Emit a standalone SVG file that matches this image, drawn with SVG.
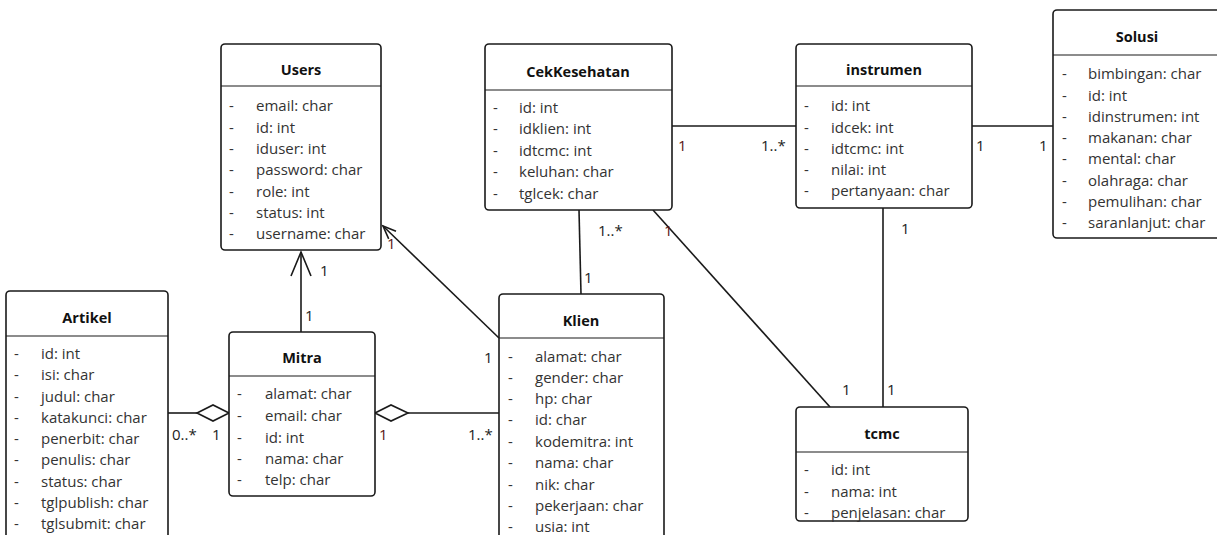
<svg xmlns="http://www.w3.org/2000/svg" width="1217" height="535" viewBox="0 0 1217 535">
<style>
.box{fill:#fff;stroke:#1a1a1a;stroke-width:1.6}
.div{stroke:#1a1a1a;stroke-width:1.2}
.t{font-family:"Open Sans","Liberation Sans",Arial,sans-serif;font-size:14.5px;font-weight:bold;fill:#111;text-anchor:middle}
.a{font-family:"Open Sans","Liberation Sans",Arial,sans-serif;font-size:15px;fill:#333}
.c{stroke:#1a1a1a;stroke-width:1.6;fill:none}
.l{font-family:"Open Sans","Liberation Sans",Arial,sans-serif;font-size:15px;fill:#222}
.r{fill:#5a1414}
</style>
<rect width="1217" height="535" fill="#fff"/>
<g id="connectors">
<line class="c" x1="301" y1="332" x2="301" y2="252"/>
<polyline class="c" points="291,276 301,252 311,276"/>
<line class="c" x1="499" y1="338" x2="383" y2="226"/>
<polyline class="c" points="388.7,238.8 383,226 396,231.2"/>
<line class="c" x1="168" y1="413" x2="197" y2="413"/>
<polygon class="c" fill="#fff" points="229,413 213,405 197,413 213,421"/>
<line class="c" x1="408" y1="413" x2="499" y2="413"/>
<polygon class="c" fill="#fff" points="375,413 391,405 408,413 391,421"/>
<line class="c" x1="579" y1="210" x2="581" y2="294"/>
<line class="c" x1="653" y1="210" x2="830" y2="407"/>
<line class="c" x1="672" y1="126" x2="796" y2="126"/>
<line class="c" x1="972" y1="126" x2="1053" y2="126"/>
<line class="c" x1="883" y1="208" x2="883" y2="407"/>
<text class="l" x="320" y="276">1</text>
<text class="l" x="305" y="321">1</text>
<text class="l r" x="387" y="249">1</text>
<text class="l" x="484" y="363">1</text>
<text class="l" x="172" y="440">0..*</text>
<text class="l" x="212" y="440">1</text>
<text class="l r" x="379" y="440">1</text>
<text class="l" x="468" y="440">1..*</text>
<text class="l" x="598" y="236">1..*</text>
<text class="l" x="584" y="283">1</text>
<text class="l r" x="664" y="236">1</text>
<text class="l" x="842" y="395">1</text>
<text class="l r" x="678" y="151">1</text>
<text class="l" x="761" y="151">1..*</text>
<text class="l" x="976" y="151">1</text>
<text class="l" x="1039" y="151">1</text>
<text class="l" x="901" y="234">1</text>
<text class="l" x="887" y="395">1</text>
</g>
<g id="Users">
<rect class="box" x="221" y="44" width="160" height="206" rx="4"/>
<line class="div" x1="221" y1="86" x2="381" y2="86"/>
<text class="t" x="301" y="75">Users</text>
<g class="a">
<text x="229" y="111">-</text><text x="256" y="111">email: char</text>
<text x="229" y="133">-</text><text x="256" y="133">id: int</text>
<text x="229" y="154">-</text><text x="256" y="154">iduser: int</text>
<text x="229" y="175">-</text><text x="256" y="175">password: char</text>
<text x="229" y="197">-</text><text x="256" y="197">role: int</text>
<text x="229" y="218">-</text><text x="256" y="218">status: int</text>
<text x="229" y="239">-</text><text x="256" y="239">username: char</text>
</g>
</g>
<g id="CekKesehatan">
<rect class="box" x="485" y="44" width="187" height="166" rx="4"/>
<line class="div" x1="485" y1="90" x2="672" y2="90"/>
<text class="t" x="578" y="77">CekKesehatan</text>
<g class="a">
<text x="493" y="113">-</text><text x="519" y="113">id: int</text>
<text x="493" y="134">-</text><text x="519" y="134">idklien: int</text>
<text x="493" y="156">-</text><text x="519" y="156">idtcmc: int</text>
<text x="493" y="177">-</text><text x="519" y="177">keluhan: char</text>
<text x="493" y="199">-</text><text x="519" y="199">tglcek: char</text>
</g>
</g>
<g id="instrumen">
<rect class="box" x="796" y="44" width="176" height="164" rx="4"/>
<line class="div" x1="796" y1="86" x2="972" y2="86"/>
<text class="t" x="884" y="75">instrumen</text>
<g class="a">
<text x="804" y="111">-</text><text x="831" y="111">id: int</text>
<text x="804" y="133">-</text><text x="831" y="133">idcek: int</text>
<text x="804" y="154">-</text><text x="831" y="154">idtcmc: int</text>
<text x="804" y="175">-</text><text x="831" y="175">nilai: int</text>
<text x="804" y="196">-</text><text x="831" y="196">pertanyaan: char</text>
</g>
</g>
<g id="Solusi">
<rect class="box" x="1053" y="10" width="175" height="228" rx="4"/>
<line class="div" x1="1053" y1="55" x2="1217" y2="55"/>
<text class="t" x="1137" y="42">Solusi</text>
<g class="a">
<text x="1062" y="79">-</text><text x="1088" y="79">bimbingan: char</text>
<text x="1062" y="101">-</text><text x="1088" y="101">id: int</text>
<text x="1062" y="122">-</text><text x="1088" y="122">idinstrumen: int</text>
<text x="1062" y="143">-</text><text x="1088" y="143">makanan: char</text>
<text x="1062" y="164">-</text><text x="1088" y="164">mental: char</text>
<text x="1062" y="186">-</text><text x="1088" y="186">olahraga: char</text>
<text x="1062" y="207">-</text><text x="1088" y="207">pemulihan: char</text>
<text x="1062" y="228">-</text><text x="1088" y="228">saranlanjut: char</text>
</g>
</g>
<g id="Artikel">
<rect class="box" x="6" y="291" width="162" height="260" rx="4"/>
<line class="div" x1="6" y1="336" x2="168" y2="336"/>
<text class="t" x="87" y="323">Artikel</text>
<g class="a">
<text x="14" y="359">-</text><text x="41" y="359">id: int</text>
<text x="14" y="380">-</text><text x="41" y="380">isi: char</text>
<text x="14" y="402">-</text><text x="41" y="402">judul: char</text>
<text x="14" y="423">-</text><text x="41" y="423">katakunci: char</text>
<text x="14" y="444">-</text><text x="41" y="444">penerbit: char</text>
<text x="14" y="465">-</text><text x="41" y="465">penulis: char</text>
<text x="14" y="487">-</text><text x="41" y="487">status: char</text>
<text x="14" y="508">-</text><text x="41" y="508">tglpublish: char</text>
<text x="14" y="529">-</text><text x="41" y="529">tglsubmit: char</text>
</g>
</g>
<g id="Mitra">
<rect class="box" x="229" y="332" width="146" height="164" rx="4"/>
<line class="div" x1="229" y1="376" x2="375" y2="376"/>
<text class="t" x="302" y="363">Mitra</text>
<g class="a">
<text x="237" y="399">-</text><text x="265" y="399">alamat: char</text>
<text x="237" y="421">-</text><text x="265" y="421">email: char</text>
<text x="237" y="443">-</text><text x="265" y="443">id: int</text>
<text x="237" y="464">-</text><text x="265" y="464">nama: char</text>
<text x="237" y="485">-</text><text x="265" y="485">telp: char</text>
</g>
</g>
<g id="Klien">
<rect class="box" x="499" y="294" width="165" height="260" rx="4"/>
<line class="div" x1="499" y1="338" x2="664" y2="338"/>
<text class="t" x="581" y="326">Klien</text>
<g class="a">
<text x="508" y="362">-</text><text x="535" y="362">alamat: char</text>
<text x="508" y="383">-</text><text x="535" y="383">gender: char</text>
<text x="508" y="404">-</text><text x="535" y="404">hp: char</text>
<text x="508" y="425">-</text><text x="535" y="425">id: char</text>
<text x="508" y="447">-</text><text x="535" y="447">kodemitra: int</text>
<text x="508" y="468">-</text><text x="535" y="468">nama: char</text>
<text x="508" y="490">-</text><text x="535" y="490">nik: char</text>
<text x="508" y="511">-</text><text x="535" y="511">pekerjaan: char</text>
<text x="508" y="532">-</text><text x="535" y="532">usia: int</text>
</g>
</g>
<g id="tcmc">
<rect class="box" x="796" y="407" width="172" height="114" rx="4"/>
<line class="div" x1="796" y1="452" x2="968" y2="452"/>
<text class="t" x="882" y="439">tcmc</text>
<g class="a">
<text x="804" y="475">-</text><text x="831" y="475">id: int</text>
<text x="804" y="497">-</text><text x="831" y="497">nama: int</text>
<text x="804" y="518">-</text><text x="831" y="518">penjelasan: char</text>
</g>
</g>
</svg>
